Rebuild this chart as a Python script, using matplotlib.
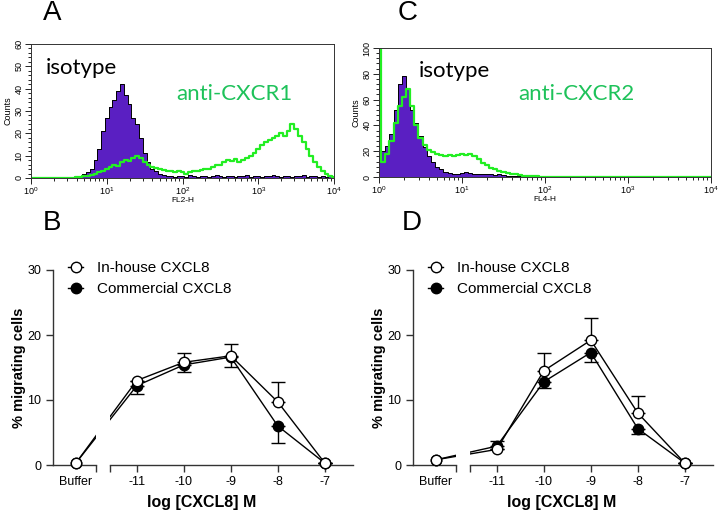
import numpy as np
import matplotlib
matplotlib.use("Agg")
import matplotlib.pyplot as plt
from matplotlib.lines import Line2D
from matplotlib.ticker import LogLocator, NullFormatter, MultipleLocator

plt.rcParams['font.family'] = ['Liberation Sans', 'DejaVu Sans']

# ---- flow cytometry histograms (counts per 0.05-decade channel, 10^0 .. 10^4) ----
hist_decades = np.round(np.arange(81) * 0.05, 2)

a_isotype = [0] * 12 + [1, 0.5, 2, 2.5, 4, 8, 13, 21, 27, 32, 35, 39, 42, 37, 33, 27, 24, 18,
                        11, 7, 4, 3, 2, 1.5, 1,
                        1, 0.5, 1, 1, 0.5, 1.5, 1, 0.5, 1, 1, 0.5, 1, 1.5, 1, 0.5, 1, 1, 0.5,
                        1, 1, 1.5, 0.5, 1, 1, 0.5, 1, 1, 1.5, 1, 0.5, 1, 1, 0.5, 1, 1, 1.5,
                        0.5, 1, 1, 0.5, 1, 0.5, 1, 0.5]
a_cxcr1 = [0] * 12 + [0.5, 0.5, 1, 1, 1.5, 2, 2.5, 3, 4, 5, 6, 5.5, 7, 8, 7.5, 9, 10, 9, 7, 6,
                      5, 4.5, 4, 3.5, 3, 3, 2.5, 3, 2.5, 2, 2.5, 3, 3, 3.5, 4, 4, 5, 6, 6, 7,
                      8, 7.5, 8.5, 7, 8, 9, 10, 11, 13, 15, 16, 17, 18, 19, 20, 19, 21, 24, 22,
                      19, 16, 13, 10, 7, 5, 3, 2, 1, 0.5]
c_isotype = [16, 20, 24, 33, 52, 72, 78, 68, 52, 42, 32, 23, 16, 12, 8, 6, 4, 3, 2.5, 2,
             3, 3.5, 3, 2, 2.5, 2, 2.5, 2, 1.5, 2, 1.5, 1, 1, 0.5, 0.5] + [0] * 46
c_cxcr2 = [110, 12, 18, 28, 42, 55, 62, 68, 55, 40, 30, 25, 21, 19, 18, 17, 16, 17, 16, 17,
           18, 17, 18, 16, 14, 11, 9, 7, 6, 5, 4, 3, 2.5, 2, 1.5, 1, 1, 0.5, 0.5] + [0] * 42

# ---- chemotaxis ----
conc_labels = ['Buffer', '-11', '-10', '-9', '-8', '-7']
conc_logs = [-11, -10, -9, -8, -7]

b_inhouse = [0.3, 13.0, 15.8, 16.8, 9.7, 0.3]
b_inhouse_err = [0, 0, 1.4, 1.8, 3.0, 0]
b_commercial = [0.3, 12.2, 15.4, 16.6, 6.0, 0.3]
b_commercial_err = [0, 1.3, 1.1, 1.5, 2.6, 0]

d_inhouse = [0.8, 2.4, 14.5, 19.2, 8.0, 0.3]
d_inhouse_err = [0, 1.3, 2.7, 3.4, 2.6, 0]
d_commercial = [0.8, 2.9, 12.8, 17.3, 5.6, 0.3]
d_commercial_err = [0, 0.4, 0.9, 1.4, 0.9, 0]

purple = '#5a1fc2'
green_line = '#22ee22'
green_text = '#1ec25a'

W, H = 719, 513
fig = plt.figure(figsize=(W / 100, H / 100), dpi=100)


def px_axes(left, top, right, bottom):
    return fig.add_axes([left / W, 1 - bottom / H, (right - left) / W, (bottom - top) / H])


def histogram(box, iso, pos, ymax, ystep, xlabel, tag, iso_xy, pos_xy):
    ax = px_axes(*box)
    x = 10 ** hist_decades
    ax.fill_between(x, iso, step='mid', color=purple, lw=0)
    ax.step(x, iso, where='mid', color='black', lw=0.7)
    ax.step(x, pos, where='mid', color=green_line, lw=1.6)
    ax.set_xscale('log')
    ax.set_xlim(1, 1e4)
    ax.set_ylim(0, ymax)
    ax.xaxis.set_major_locator(LogLocator(base=10, numticks=6))
    ax.xaxis.set_minor_locator(LogLocator(base=10, subs=np.arange(2, 10), numticks=10))
    ax.xaxis.set_minor_formatter(NullFormatter())
    ax.yaxis.set_major_locator(MultipleLocator(ystep))
    ax.yaxis.set_minor_locator(MultipleLocator(ystep / 5))
    ax.tick_params(which='both', top=False, right=False, direction='out', width=0.6,
                   labelsize=6.5, pad=1.5)
    ax.tick_params(which='major', length=4)
    ax.tick_params(which='minor', length=2)
    for lab in ax.get_yticklabels():
        lab.set_rotation(90)
        lab.set_va('center')
    for s in ax.spines.values():
        s.set_linewidth(0.7)
        s.set_color('#333333')
    ax.set_ylabel('Counts', fontsize=6.5, labelpad=1)
    ax.set_xlabel(xlabel, fontsize=6, labelpad=0)
    ax.text(*iso_xy, 'isotype', transform=ax.transAxes, fontsize=16, family='Lato',
            va='center', ha='left')
    ax.text(*pos_xy, 'anti-' + tag, transform=ax.transAxes,
            fontsize=16, family='Lato', color=green_text, va='center', ha='left')
    return ax


histogram((31, 44, 334, 178), a_isotype, a_cxcr1, 60, 10, 'FL2-H', 'CXCR1',
          (0.05, 0.82), (0.48, 0.63))
histogram((379, 48, 711, 177), c_isotype, c_cxcr2, 100, 20, 'FL4-H', 'CXCR2',
          (0.12, 0.82), (0.42, 0.64))

buffer_x = -12.3
xs = [buffer_x] + conc_logs


def migration(x0, inhouse, inhouse_err, comm, comm_err):
    axl = px_axes(x0, 270, x0 + 43, 465)
    axr = px_axes(x0 + 57, 270, x0 + 300, 465)
    axl.set_xlim(-12.79, -11.87)
    axr.set_xlim(-11.57, -6.4)
    for ax in (axl, axr):
        ax.set_ylim(0, 30)
        ax.plot(xs, inhouse, color='black', lw=1)
        ax.plot(xs, comm, color='black', lw=1)
        for s in ('top', 'right'):
            ax.spines[s].set_visible(False)
        for s in ax.spines.values():
            s.set_linewidth(1)
            s.set_color('#333333')
        ax.tick_params(which='both', direction='out', length=5, width=1, labelsize=9,
                       color='#333333')
    axr.spines['left'].set_visible(False)
    axr.tick_params(axis='y', left=False, labelleft=False)
    axl.set_yticks([0, 10, 20, 30])

    axl.set_xticks([buffer_x], [conc_labels[0]])
    axl.tick_params(axis='x', which='major', length=0, pad=8)
    axl.set_xticks([-11.87], minor=True)
    axr.set_xticks(conc_logs, conc_labels[1:])
    axr.tick_params(axis='x', pad=3)
    axr.set_xticks([-11.57], minor=True)

    mk = dict(marker='o', ms=7.5, mec='black', mew=1, ls='none', clip_on=False, zorder=5)
    ek = dict(fmt='none', ecolor='black', elinewidth=1, capsize=5, capthick=1, clip_on=False)
    # commercial below, in-house on top
    axr.errorbar(conc_logs, comm[1:], yerr=[comm_err[1:], [0] * 5], **ek)
    axr.errorbar(conc_logs, inhouse[1:], yerr=[[0] * 5, inhouse_err[1:]], **ek)
    axr.plot(conc_logs, comm[1:], mfc='black', **mk)
    axr.plot(conc_logs, inhouse[1:], mfc='white', **mk)
    axl.plot([buffer_x], comm[:1], mfc='black', **mk)
    axl.plot([buffer_x], inhouse[:1], mfc='white', **mk)

    axl.set_ylabel('% migrating cells', fontsize=10.5, fontweight='bold', labelpad=0.5)
    fig.text((x0 + 149) / W, 1 - 502 / H, 'log [CXCL8] M', fontsize=11.5,
             fontweight='bold', ha='center', va='center')
    handles = [Line2D([], [], color='black', lw=1, marker='o', ms=7.5, mfc='white', mec='black'),
               Line2D([], [], color='black', lw=1, marker='o', ms=7.5, mfc='black', mec='black')]
    fig.legend(handles, ['In-house CXCL8', 'Commercial CXCL8'], loc='upper left',
               bbox_to_anchor=((x0 + 15) / W, 1 - 261 / H), frameon=False, fontsize=11,
               handlelength=1.0, handletextpad=0.9, labelspacing=0.45, borderpad=0,
               borderaxespad=0)


migration(53, b_inhouse, b_inhouse_err, b_commercial, b_commercial_err)
migration(413, d_inhouse, d_inhouse_err, d_commercial, d_commercial_err)

for letter, xp, yp in [('A', 43, 13), ('C', 398, 13), ('B', 43, 223), ('D', 402, 223)]:
    fig.text(xp / W, 1 - yp / H, letter, fontsize=20, ha='left', va='center')

fig.savefig('out.png', dpi=100)
